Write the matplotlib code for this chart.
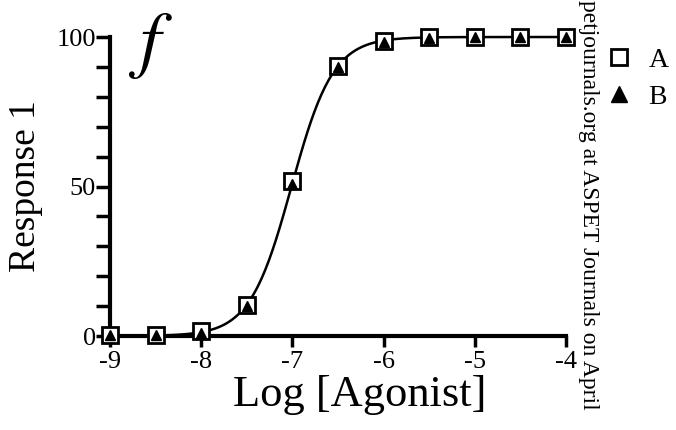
import numpy as np
import matplotlib.pyplot as plt
from matplotlib.ticker import MultipleLocator

plt.rcParams['font.family'] = ['Liberation Serif', 'DejaVu Serif']

log_agonist = [-9, -8.5, -8, -7.5, -7, -6.5, -6, -5.5, -5, -4.5, -4]
resp_a = [0.5, 0.3, 1.7, 10.4, 51.8, 90.3, 98.7, 100, 100, 100, 100]
resp_b = [0.3, 0.5, 1.0, 10.0, 51.0, 90.0, 98.5, 99.8, 100, 100, 100]

# sigmoid fit (bottom 0, top 100) by a plain grid search over both sets
x = np.array(log_agonist * 2)
y = np.array(resp_a + resp_b)
best = None
for ec in np.arange(-7.5, -6.5, 0.005):
    for n in np.arange(1.0, 3.0, 0.01):
        err = np.sum((y - 100 / (1 + 10 ** ((ec - x) * n))) ** 2)
        if best is None or err < best[0]:
            best = (err, ec, n)
_, log_ec50, hill = best
xc = np.linspace(-9, -4, 400)
yc = 100 / (1 + 10 ** ((log_ec50 - xc) * hill))

fig = plt.figure(figsize=(6.76, 4.30), dpi=100)
ax = fig.add_axes([0.1627, 0.2186, 0.6746, 0.6953])

ax.plot(xc, yc, color='black', lw=1.8, clip_on=False)
ax.plot(log_agonist, resp_a, ls='none', marker='s', ms=11, mfc='white',
        mec='black', mew=2, clip_on=False, zorder=3, label='A')
ax.plot(log_agonist, resp_b, ls='none', marker='^', ms=7, color='black',
        clip_on=False, zorder=4, label='B')

ax.set_xlim(-9, -4)
ax.set_ylim(0, 100)
ax.set_xticks([-9, -8, -7, -6, -5, -4])
ax.set_xticklabels(['-9', '-8', '-7', '-6', '-5', '-4'])
ax.set_yticks([0, 50, 100])
ax.yaxis.set_minor_locator(MultipleLocator(10))

for s in ['top', 'right']:
    ax.spines[s].set_visible(False)
for s in ['left', 'bottom']:
    ax.spines[s].set_linewidth(3)

ax.tick_params(axis='both', which='both', direction='out', width=2.5,
               labelsize=19, colors='black')
ax.tick_params(axis='y', which='both', length=10, pad=0)
ax.tick_params(axis='x', which='major', length=8, pad=3)

ax.set_xlabel('Log [Agonist]', fontsize=32, labelpad=2)
ax.xaxis.set_label_coords(0.548, -0.13)
ax.set_ylabel('Response 1', fontsize=27, labelpad=10)

fig.text(0.19, 0.975, '$f$', fontsize=54, math_fontfamily='stix',
         va='top', ha='left')

leg = fig.legend(loc='upper left', bbox_to_anchor=(0.883, 0.915), frameon=False,
                 fontsize=20, handlelength=0.8, handletextpad=0.65,
                 labelspacing=0.4, borderaxespad=0)
leg.legend_handles[0].set_markersize(12)
leg.legend_handles[1].set_markersize(11)

fig.text(0.87, 1.0, 'petjournals.org at ASPET Journals on April',
         rotation=270, fontsize=17, va='top', ha='center')

fig.savefig('out.png', dpi=100)
